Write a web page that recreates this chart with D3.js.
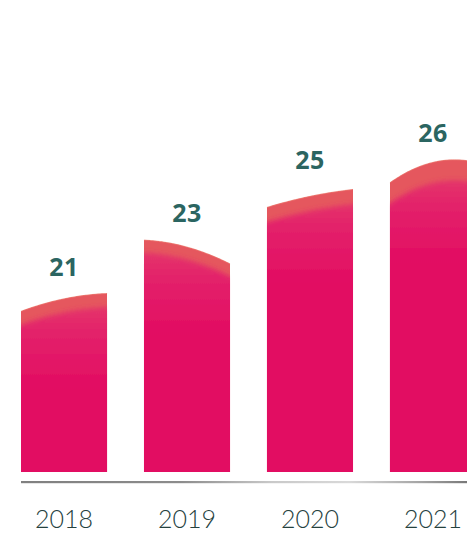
<!DOCTYPE html>
<html>
<head>
<meta charset="utf-8">
<script src="https://cdn.jsdelivr.net/npm/d3@7"></script>
<style>
  html, body { margin: 0; padding: 0; background: #ffffff; }
  svg { display: block; }
</style>
</head>
<body>
<div id="chart"></div>
<script>
// Yearly totals
const years  = ["2018", "2019", "2020", "2021"];
const values = [21, 23, 25, 26];

const W = 467, H = 534;
const baseY = 472;

// Shape of each rounded crown: where the dome peaks (fraction of bar width,
// may lie past an edge) and how quickly it falls away (px per px²).
const crownPeak = [1.12, -0.10, 1.60, 0.75];
const crownBend = [0.00194, 0.00268, 0.00110, 0.00550];
// Depth of the coral band under each crown
const bandDepth = [14, 13, 15, 21];

const svg = d3.select("#chart").append("svg")
  .attr("width", W).attr("height", H);

const defs = svg.append("defs");

const x = d3.scaleBand()
  .domain(years)
  .range([21, 476])
  .paddingInner(0.3)
  .paddingOuter(0);

const y = d3.scaleLinear()
  .domain([14.29, 26])
  .range([baseY, 159.4]);

const bw = x.bandwidth();

// soft edge between the coral band and the body
defs.append("filter").attr("id", "soft")
  .attr("filterUnits", "userSpaceOnUse")
  .attr("x", 0).attr("y", 0).attr("width", W + 40).attr("height", H)
  .append("feGaussianBlur").attr("stdDeviation", 2.6);

// axis line gradient
const axGrad = defs.append("linearGradient").attr("id", "axisGrad")
  .attr("x1", "0%").attr("x2", "100%").attr("y1", "0%").attr("y2", "0%");
[[0, "#808080"], [0.35, "#8c8c8c"], [0.55, "#c9c9c9"], [0.72, "#d9d9d9"], [0.88, "#a3a3a3"], [1, "#6f6f6f"]]
  .forEach(([o, c]) => axGrad.append("stop").attr("offset", o).attr("stop-color", c));

// crown curve sampled across [x0 - ext, x0 + bw + ext]
function crownPoints(i, dy, ext) {
  const x0 = x(years[i]);
  const xp = x0 + crownPeak[i] * bw;
  const yp = y(values[i]);
  const pts = [];
  const n = 48;
  for (let s = 0; s <= n; s++) {
    const xx = x0 - ext + ((bw + 2 * ext) * s) / n;
    const xc = Math.max(x0 - 2, Math.min(x0 + bw + 2, xx));
    pts.push([xx, yp + crownBend[i] * (xc - xp) * (xc - xp) + dy]);
  }
  return pts;
}

function shapePath(i, dy, ext, bottom) {
  const x0 = x(years[i]);
  const top = crownPoints(i, dy, ext);
  const pts = [[x0 - ext, bottom]].concat(top).concat([[x0 + bw + ext, bottom]]);
  return d3.line()(pts) + "Z";
}

const bars = svg.append("g");

years.forEach((yr, i) => {
  defs.append("clipPath").attr("id", "clip" + i)
    .append("path").attr("d", shapePath(i, 0, 0, baseY));

  const top = y(values[i]) + bandDepth[i];
  const grad = defs.append("linearGradient").attr("id", "body" + i)
    .attr("gradientUnits", "userSpaceOnUse")
    .attr("x1", 0).attr("x2", 0).attr("y1", top - 4).attr("y2", top + 85);
  [[0, "#e4376a"], [0.35, "#e3216a"], [1, "#e20b62"]]
    .forEach(([o, c]) => grad.append("stop").attr("offset", o).attr("stop-color", c));

  const g = bars.append("g").attr("clip-path", `url(#clip${i})`);

  // coral crown
  g.append("path").attr("d", shapePath(i, 0, 0, baseY)).attr("fill", "#e5575e");
  // body under the band
  g.append("path").attr("d", shapePath(i, bandDepth[i], 12, baseY + 30))
    .attr("fill", `url(#body${i})`).attr("filter", "url(#soft)");

  // light rim along the crown
  svg.append("path")
    .attr("d", d3.line()(crownPoints(i, 0.4, 0)))
    .attr("fill", "none")
    .attr("stroke", "#ee8676")
    .attr("stroke-width", 1)
    .attr("opacity", 0.6);
});

// value labels
svg.append("g").selectAll("text")
  .data(values)
  .join("text")
  .attr("x", (d, i) => x(years[i]) + bw / 2)
  .attr("y", d => y(d) - 17)
  .attr("text-anchor", "middle")
  .attr("font-family", "'Open Sans', sans-serif")
  .attr("font-weight", 700)
  .attr("font-size", 25)
  .attr("letter-spacing", 0.5)
  .attr("fill", "#2b6561")
  .text(d => d);

// baseline
svg.append("rect")
  .attr("x", x(years[0]))
  .attr("y", 481)
  .attr("width", W - x(years[0]) + 10)
  .attr("height", 2.2)
  .attr("fill", "url(#axisGrad)");

// year labels
svg.append("g").selectAll("text")
  .data(years)
  .join("text")
  .attr("x", d => x(d) + bw / 2)
  .attr("y", 528)
  .attr("text-anchor", "middle")
  .attr("font-family", "Lato, sans-serif")
  .attr("font-weight", 300)
  .attr("font-size", 25)
  .attr("fill", "#25413e")
  .text(d => d);
</script>
</body>
</html>
